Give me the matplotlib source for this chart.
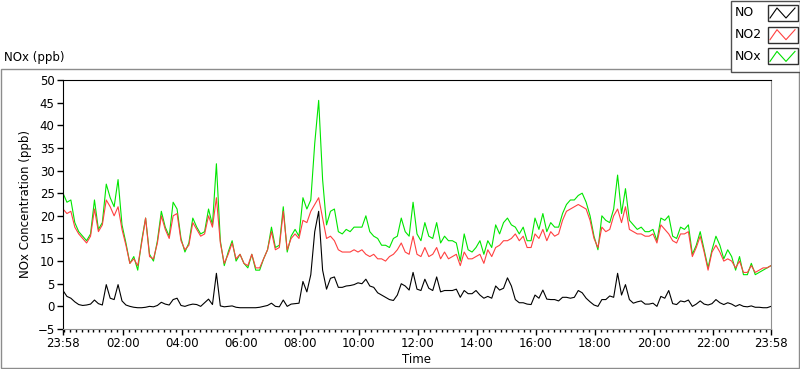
import numpy as np
import matplotlib.pyplot as plt
from matplotlib.patches import Rectangle

# minutes after 23:58, one reading every 8 min
t_min = np.arange(0, 1441, 8)

no2 = [21.5, 20.5, 21.0, 17.5, 16.0, 15.0, 14.0, 15.5, 21.5, 16.5, 18.0, 23.5, 22.0, 20.0, 22.0,
       17.0, 13.5, 9.5, 10.5, 9.0, 14.0, 19.5, 11.0, 10.5, 14.0, 20.0, 17.0, 15.0, 20.0, 20.5,
       14.5, 12.5, 13.5, 18.5, 17.0, 15.5, 16.0, 20.0, 17.5, 24.0, 14.0, 9.5, 11.5, 14.0, 10.5,
       11.5, 9.5, 9.0, 11.5, 8.5, 8.5, 10.5, 12.5, 16.5, 12.5, 13.0, 21.0, 12.5, 15.0,
       16.0, 15.0, 19.0, 18.5, 21.0, 22.5, 24.0, 19.5, 15.0, 15.5, 14.5, 12.5, 12.0, 12.0, 12.0,
       12.5, 12.0, 12.5, 11.5, 11.0, 11.5, 10.5, 10.5, 10.0, 11.0, 11.5, 12.5, 14.0, 12.0,
       11.5, 15.5, 11.5, 11.0, 13.0, 11.0, 11.5, 13.0, 10.5, 12.0, 10.5, 11.0, 11.5, 9.0, 12.0,
       10.5, 10.5, 11.0, 11.5, 9.5, 12.5, 11.0, 13.0, 13.5, 14.5, 14.5, 15.0, 16.0, 14.5,
       15.5, 13.0, 13.0, 16.0, 15.0, 17.0, 14.5, 16.5, 15.5, 16.0, 19.0, 21.0, 21.5, 22.0, 22.5,
       22.0, 21.5, 19.0, 15.0, 13.0, 17.5, 16.5, 17.0, 20.0, 21.5, 18.5, 22.0, 17.0, 16.5,
       16.0, 16.0, 15.5, 15.5, 16.0, 14.0, 18.0, 17.0, 16.0, 14.5, 14.0, 16.0, 16.0, 16.5, 11.0,
       13.0, 15.5, 12.0, 8.0, 12.0, 13.5, 12.0, 10.0, 10.5, 10.0, 8.5, 10.0, 7.5, 7.5, 9.0,
       7.5, 8.0, 8.5, 8.5, 9.0]

nox = [25.0, 23.0, 23.5, 18.5, 16.5, 15.5, 14.5, 16.0, 23.5, 17.0, 18.5, 27.0, 24.0, 22.0, 28.0,
       18.0, 14.0, 9.5, 11.0, 8.0, 14.5, 19.5, 11.5, 10.0, 14.5, 21.0, 17.5, 15.5, 23.0, 21.5,
       15.0, 12.0, 14.0, 19.5, 17.5, 16.0, 16.5, 21.5, 18.0, 31.5, 14.5, 9.0, 12.0, 14.5, 10.0,
       11.5, 9.5, 8.5, 11.5, 8.0, 8.0, 10.5, 12.5, 17.5, 13.0, 13.5, 22.0, 12.0, 15.5,
       17.0, 15.5, 24.0, 21.5, 23.5, 36.0, 45.5, 28.0, 18.0, 21.0, 21.5, 16.5, 16.0, 17.0, 16.5,
       17.5, 17.5, 17.5, 20.0, 16.5, 15.5, 15.0, 13.5, 13.5, 13.0, 15.0, 15.5, 19.5, 16.5,
       15.5, 23.0, 16.0, 14.5, 18.5, 15.5, 15.0, 18.5, 14.0, 15.5, 14.5, 14.5, 14.0, 10.0, 16.0,
       12.5, 12.0, 13.0, 14.5, 11.5, 14.5, 13.0, 18.0, 16.0, 18.5, 19.5, 18.0, 17.5, 16.0,
       17.5, 14.5, 14.5, 19.5, 17.0, 20.5, 16.5, 18.5, 17.5, 17.5, 20.5, 22.5, 23.5, 23.5, 24.5,
       25.0, 23.0, 20.0, 15.5, 12.5, 20.0, 19.0, 18.5, 21.5, 29.0, 20.5, 26.0, 19.0, 18.0,
       17.0, 17.5, 16.5, 16.5, 17.0, 14.5, 19.5, 19.0, 20.0, 15.5, 15.0, 17.5, 17.0, 18.0, 11.5,
       13.5, 16.5, 12.5, 8.5, 12.5, 15.5, 13.5, 10.5, 12.5, 11.0, 8.0, 11.0, 7.0, 7.0, 9.5,
       7.0, 7.5, 8.0, 8.5, 9.0]

no = [3.5, 2.2, 1.8, 1.0, 0.4, 0.2, 0.3, 0.5, 1.4, 0.6, 0.3, 4.8, 1.8, 1.5, 4.8,
      1.2, 0.3, 0.0, -0.2, -0.3, -0.3, -0.2, 0.0, -0.1, 0.2, 0.9, 0.5, 0.3, 1.5, 1.8,
      0.2, 0.0, 0.3, 0.5, 0.4, 0.0, 0.8, 1.6, 0.4, 7.3, 0.1, -0.1, 0.0, 0.1, -0.2,
      -0.3, -0.3, -0.3, -0.3, -0.3, -0.2, 0.0, 0.2, 0.7, 0.0, -0.1, 1.4, 0.0, 0.5,
      0.6, 0.7, 5.5, 3.2, 7.0, 16.5, 21.0, 8.0, 3.8, 6.2, 6.5, 4.2, 4.2, 4.5, 4.6,
      4.8, 5.2, 5.0, 6.0, 4.5, 4.2, 3.0, 2.5, 2.0, 1.5, 1.3, 2.5, 5.0, 4.5,
      3.6, 7.5, 3.8, 3.5, 6.0, 4.0, 3.5, 6.5, 3.2, 3.5, 3.5, 3.5, 3.8, 2.0, 3.5,
      2.8, 2.8, 3.5, 2.5, 1.8, 2.2, 1.8, 4.5, 3.6, 4.0, 6.3, 4.5, 1.5, 0.8,
      0.8, 0.5, 0.4, 2.5, 1.8, 3.6, 1.6, 1.5, 1.5, 1.2, 2.0, 2.0, 1.8, 2.0, 3.5,
      3.0, 1.8, 1.0, 0.3, 0.0, 1.5, 1.5, 2.3, 2.0, 7.3, 2.5, 4.8, 1.5, 0.7,
      1.0, 1.2, 0.5, 0.5, 0.7, 0.0, 2.2, 1.8, 3.5, 0.6, 0.4, 1.2, 1.0, 1.4, 0.0,
      0.5, 1.2, 0.5, 0.3, 0.6, 1.5, 0.8, 0.4, 0.8, 0.5, 0.0, 0.4, 0.0, -0.1, 0.1,
      -0.2, -0.2, -0.3, -0.3, 0.0]

tick_pos = [0, 122, 242, 362, 482, 602, 722, 842, 962, 1082, 1202, 1322, 1440]
tick_lbl = ['23:58', '02:00', '04:00', '06:00', '08:00', '10:00', '12:00',
            '14:00', '16:00', '18:00', '20:00', '22:00', '23:58']

FS = 8.5
fig = plt.figure(figsize=(8, 3.69), dpi=100)

# background layer in pixel coords: frame, caption, legend
bg = fig.add_axes([0, 0, 1, 1])
bg.set_xlim(0, 800)
bg.set_ylim(369, 0)
bg.axis('off')
bg.add_patch(Rectangle((0.5, 69), 798, 299, fill=False, ec='#8c8c8c', lw=1))
bg.text(4, 57, 'NOx (ppb)', fontsize=FS, va='center')

bg.add_patch(Rectangle((730.5, 0.5), 69, 71.5, fc='white', ec='#505050', lw=1, zorder=3))
for k, (name, col) in enumerate([('NO', 'black'), ('NO2', '#ff4040'), ('NOx', '#00e000')]):
    y0 = 5 + k * 21.7
    bg.text(735, y0 + 8, name, fontsize=FS + 0.5, va='center', zorder=4)
    bg.add_patch(Rectangle((767.5, y0), 30, 16, fc='white', ec='#303030', lw=1, zorder=4))
    bg.plot([770, 777, 786, 795], [y0 + 13, y0 + 3, y0 + 13, y0 + 3], color=col, lw=0.8, zorder=5)

ax = fig.add_axes([63 / 800, 1 - 329 / 369, (771 - 63) / 800, (329 - 80) / 369])
ax.plot(t_min, nox, color='#00e600', lw=0.8)
ax.plot(t_min, no2, color='#ff4040', lw=0.8)
ax.plot(t_min, no, color='black', lw=0.8)

ax.set_xlim(0, 1440)
ax.set_ylim(-5, 50)
ax.set_yticks(range(-5, 51, 5))
ax.set_xticks(tick_pos)
ax.set_xticklabels(tick_lbl)
ax.set_xticks(np.arange(2, 1440, 12), minor=True)
ax.tick_params(direction='out', length=4, width=1, labelsize=FS, pad=2)
ax.tick_params(axis='x', which='minor', direction='out', length=2.5, width=1)
for s in ['left', 'top']:
    ax.spines[s].set_color('black')
for s in ['right', 'bottom']:
    ax.spines[s].set_color('#909090')
ax.set_xlabel('Time', fontsize=FS, labelpad=2)
ax.set_ylabel('NOx Concentration (ppb)', fontsize=FS, labelpad=4)

fig.savefig('out.png', dpi=100)
